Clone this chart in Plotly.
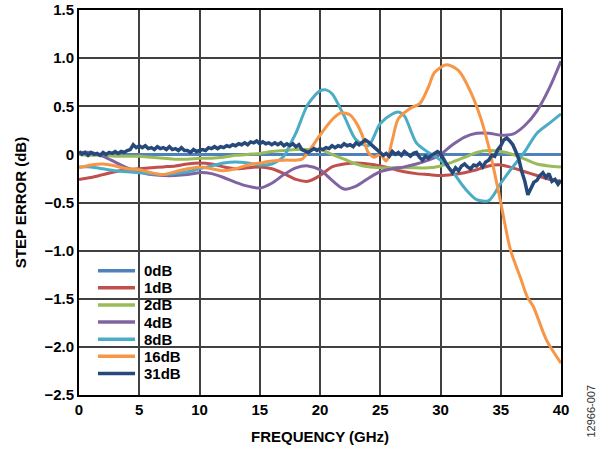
import plotly.graph_objects as go

# ---- data ----
freq_1 = [0, 1, 2, 3, 4, 5, 6, 7, 8, 9, 10, 11, 12, 13, 14, 15, 16, 17, 18, 19, 20,
          21, 22, 23, 24, 25, 26, 27, 28, 29, 30, 31, 32, 33, 34, 35, 36, 37, 38, 39, 40]

err_0db = [0.0] * len(freq_1)

err_1db = [-0.26, -0.24, -0.21, -0.18, -0.16, -0.15, -0.14, -0.13, -0.12, -0.10, -0.09,
           -0.10, -0.13, -0.15, -0.14, -0.13, -0.15, -0.20, -0.26, -0.28, -0.22,
           -0.13, -0.10, -0.09, -0.10, -0.12, -0.15, -0.18, -0.20, -0.21, -0.22,
           -0.21, -0.19, -0.16, -0.12, -0.11, -0.14, -0.18, -0.22, -0.26, -0.28]

err_2db = [0.00, -0.01, -0.01, -0.02, -0.02, -0.02, -0.03, -0.04, -0.05, -0.05, -0.04,
           -0.04, -0.03, -0.01, 0.00, 0.01, 0.03, 0.04, 0.05, 0.05, 0.05,
           0.00, -0.05, -0.10, -0.13, -0.14, -0.14, -0.14, -0.14, -0.14, -0.12,
           -0.08, -0.03, 0.02, 0.04, 0.03, 0.00, -0.05, -0.10, -0.12, -0.13]

err_4db = [0.02, 0.02, -0.02, -0.08, -0.14, -0.18, -0.21, -0.22, -0.22, -0.21, -0.19,
           -0.20, -0.24, -0.29, -0.33, -0.35, -0.30, -0.21, -0.14, -0.12, -0.16,
           -0.27, -0.36, -0.33, -0.25, -0.18, -0.15, -0.13, -0.10, -0.06, 0.00,
           0.10, 0.18, 0.22, 0.22, 0.20, 0.21, 0.30, 0.45, 0.68, 0.97]

freq_8 = [0, 1, 2, 3, 4, 5, 6, 7, 8, 9, 10, 11, 12, 13, 14, 15, 16, 17, 17.5, 18, 19,
          20, 20.5, 21, 22, 23, 24, 25, 26, 26.5, 27, 28, 29, 30, 31, 32, 33, 34, 35,
          36, 37, 38, 39, 40]
err_8db = [-0.13, -0.13, -0.15, -0.17, -0.18, -0.19, -0.20, -0.21, -0.20, -0.18, -0.15,
           -0.12, -0.09, -0.08, -0.09, -0.11, -0.10, -0.02, 0.10, 0.22, 0.52,
           0.66, 0.67, 0.63, 0.40, 0.15, 0.09, 0.32, 0.42, 0.44, 0.40, 0.12, 0.02,
           -0.06, -0.18, -0.35, -0.47, -0.48, -0.30, -0.13, 0.03, 0.22, 0.32, 0.42]

freq_16 = [0, 1, 2, 3, 4, 5, 6, 7, 8, 9, 10, 11, 12, 13, 14, 15, 16, 17, 18, 18.5, 19,
           20, 21, 21.7, 22.5, 23, 23.5, 24, 24.5, 25, 25.5, 26, 26.5, 27.5, 28.3, 29,
           29.5, 30.5, 31.5, 32.5, 33.3, 34, 34.5, 35, 35.8, 36.6, 37.2, 37.7, 38.8, 40]
err_16db = [-0.14, -0.11, -0.10, -0.12, -0.15, -0.16, -0.19, -0.21, -0.18, -0.15, -0.13,
            -0.15, -0.17, -0.15, -0.11, -0.09, -0.07, -0.06, -0.06, -0.05, 0.02,
            0.20, 0.36, 0.43, 0.41, 0.33, 0.20, 0.02, -0.03, 0.00, -0.07, 0.15, 0.37,
            0.48, 0.53, 0.70, 0.85, 0.93, 0.87, 0.65, 0.39, 0.08, -0.20, -0.50, -0.99,
            -1.27, -1.48, -1.58, -1.93, -2.17]

freq_31 = [i * 0.25 for i in range(161)]
err_31db = [
    0.03, 0.00, 0.02, -0.01, 0.02, 0.00, 0.01, -0.01, 0.02, 0.00, 0.02, 0.01, 0.03, 0.01, 0.03, 0.02,
    0.04, 0.05, 0.10, 0.07, 0.09, 0.07, 0.09, 0.06, 0.07, 0.05, 0.08, 0.06, 0.07, 0.05, 0.08, 0.05,
    0.06, 0.04, 0.07, 0.04, 0.04, 0.02, 0.05, 0.03, 0.04, 0.05, 0.04, 0.07, 0.06, 0.08, 0.06, 0.08,
    0.07, 0.09, 0.08, 0.10, 0.09, 0.11, 0.10, 0.12, 0.10, 0.13, 0.12, 0.14, 0.11, 0.13, 0.11, 0.12,
    0.10, 0.12, 0.10, 0.12, 0.09, 0.11, 0.09, 0.11, 0.08, 0.10, 0.05, 0.03, 0.02, 0.04, 0.06, 0.04,
    0.06, 0.05, 0.07, 0.06, 0.09, 0.07, 0.09, 0.08, 0.11, 0.09, 0.10, 0.08, 0.12, 0.10, 0.13, 0.15,
    0.13, 0.10, 0.07, 0.04, 0.02, -0.01, 0.01, -0.02, 0.03, 0.00, 0.02, -0.01, 0.03, 0.00, -0.02, 0.01,
    0.02, -0.03, -0.06, -0.02, -0.04, -0.01, 0.01, 0.03, 0.01, -0.05, -0.10, -0.15, -0.19, -0.14, -0.17, -0.12,
    -0.10, -0.13, -0.15, -0.11, -0.12, -0.09, -0.13, -0.08, -0.06, -0.01, -0.02, 0.05, 0.09, 0.15, 0.17, 0.14,
    0.10, 0.03, -0.05, -0.18, -0.28, -0.42, -0.36, -0.29, -0.27, -0.22, -0.19, -0.24, -0.20, -0.28, -0.26, -0.31,
    -0.27]

series_names = ["0dB", "1dB", "2dB", "4dB", "8dB", "16dB", "31dB"]
series_x = [freq_1, freq_1, freq_1, freq_1, freq_8, freq_16, freq_31]
series_y = [err_0db, err_1db, err_2db, err_4db, err_8db, err_16db, err_31db]
series_colors = ["#4F81BD", "#C0504D", "#9BBB59", "#8064A2", "#4BACC6", "#F79646", "#27497A"]

x_ticks = [0, 5, 10, 15, 20, 25, 30, 35, 40]
y_ticks = [1.5, 1.0, 0.5, 0, -0.5, -1.0, -1.5, -2.0, -2.5]
y_tick_text = ["1.5", "1.0", "0.5", "0", "\u22120.5", "\u22121.0", "\u22121.5", "\u22122.0", "\u22122.5"]

FONT = "Arial, Liberation Sans, sans-serif"
FS = 15

fig = go.Figure()
for name, xs, ys, color in zip(series_names, series_x, series_y, series_colors):
    noisy = name == "31dB"
    fig.add_trace(go.Scatter(
        x=xs, y=ys, name=name, mode="lines", showlegend=False,
        line=dict(color=color, width=3.5 if noisy else 3,
                  shape="linear" if noisy else "spline",
                  smoothing=None if noisy else 0.8),
    ))

# legend drawn inside the plot area (paper coordinates)
W_PLOT, H_PLOT, L, T = 482, 385, 79, 10
row_top_px, row_step_px = 270.7, 17.13
for i, (name, color) in enumerate(zip(series_names, series_colors)):
    py = row_top_px + i * row_step_px
    yp = (T + H_PLOT - py) / H_PLOT
    fig.add_shape(type="line", xref="paper", yref="paper",
                  x0=(98 - L) / W_PLOT, x1=(135 - L) / W_PLOT, y0=yp, y1=yp,
                  line=dict(color=color, width=3.5))
    fig.add_annotation(text=name, xref="paper", yref="paper",
                       x=(142 - L) / W_PLOT, y=yp, xanchor="left", yanchor="middle",
                       showarrow=False,
                       font=dict(family=FONT, size=FS, color="black", weight="bold"))

fig.update_layout(
    width=602, height=449,
    margin=dict(l=L, r=41, t=T, b=54, autoexpand=False),
    paper_bgcolor="white", plot_bgcolor="white",
    font=dict(family=FONT, size=FS, color="black"),
    showlegend=False,
)
fig.update_xaxes(
    range=[0, 40], tickvals=x_ticks, ticktext=[str(v) for v in x_ticks],
    showgrid=True, gridcolor="#404040", gridwidth=1.5,
    showline=True, linecolor="black", linewidth=2, mirror=True,
    zeroline=False, ticks="", automargin=False,
    tickfont=dict(family=FONT, size=FS, weight="bold"),
    title=dict(text="FREQUENCY (GHz)", font=dict(family=FONT, size=FS, weight="bold"), standoff=14),
)
fig.update_yaxes(
    range=[-2.5, 1.5], tickvals=y_ticks, ticktext=y_tick_text,
    showgrid=True, gridcolor="#404040", gridwidth=1.5,
    showline=True, linecolor="black", linewidth=2, mirror=True,
    zeroline=False, ticks="", automargin=False,
    tickfont=dict(family=FONT, size=FS, weight="bold"),
    title=dict(text="STEP ERROR (dB)", font=dict(family=FONT, size=FS, weight="bold"), standoff=14),
)
fig.add_annotation(
    text="12966-007", xref="paper", yref="paper", x=(590 - L) / W_PLOT, y=(T + H_PLOT - 440) / H_PLOT,
    xanchor="center", yanchor="bottom", textangle=-90, showarrow=False,
    font=dict(family=FONT, size=11, color="#333333"),
)

fig.write_html("out.html", config={"displayModeBar": False},
               post_script="document.body.style.margin='0px';")
